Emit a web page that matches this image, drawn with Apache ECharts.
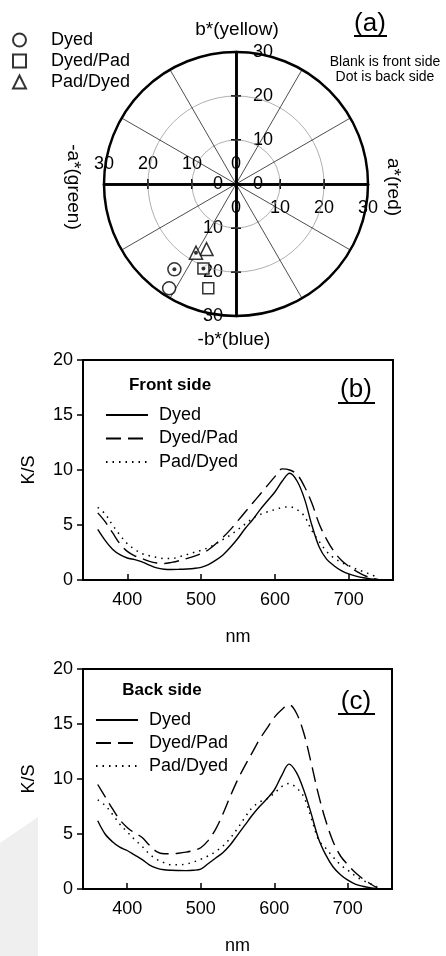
<!DOCTYPE html>
<html><head><meta charset="utf-8">
<script src="https://cdn.jsdelivr.net/npm/echarts@6/dist/echarts.min.js"></script>
<style>html,body{margin:0;padding:0;background:#fff}#c{width:446px;height:956px}</style>
</head><body><div id="c"></div>
<script>
// ---------- Panel (a): CIELAB a*, b* ----------
const dyedFrontAB     = [-15.2, -23.7];
const dyedBackAB      = [-14.0, -19.4];
const dyedPadFrontAB  = [-6.3, -23.7];
const dyedPadBackAB   = [-7.4, -19.2];
const padDyedFrontAB  = [-6.7, -14.8];
const padDyedBackAB   = [-9.1, -15.6];
const polarMax = 30;

// ---------- Panels (b),(c): K/S spectra ----------
const wavelength = [360,370,380,390,400,410,420,430,440,450,460,470,480,490,500,510,520,530,540,550,
                    560,570,580,590,600,610,620,630,640,650,660,670,680,690,700,710,720,730,740];
const frontDyed    = [4.6,3.6,2.8,2.3,2.0,1.85,1.65,1.35,1.1,0.98,0.95,0.97,1.0,1.05,1.15,1.4,1.8,2.3,3.0,3.8,
                      4.7,5.5,6.4,7.2,8.0,9.0,9.7,9.0,7.4,5.0,3.0,1.9,1.3,0.85,0.55,0.35,0.2,0.1,0.03];
const frontDyedPad = [6.1,5.3,4.3,3.3,2.6,2.2,1.95,1.7,1.55,1.5,1.6,1.75,1.95,2.15,2.4,2.75,3.3,3.9,4.6,5.4,
                      6.2,7.0,7.8,8.6,9.4,10.1,10.0,9.6,8.5,7.0,5.1,3.7,2.6,1.8,1.25,0.8,0.45,0.2,0.05];
const frontPadDyed = [6.6,6.0,5.0,4.1,3.3,2.8,2.4,2.2,2.05,1.95,1.95,2.1,2.3,2.5,2.7,2.95,3.3,3.7,4.1,4.6,
                      5.1,5.6,5.95,6.2,6.4,6.6,6.65,6.4,5.8,4.5,3.5,2.6,2.0,1.6,1.3,1.0,0.75,0.5,0.2];
const backDyed     = [6.2,5.0,4.3,3.8,3.5,3.1,2.7,2.2,1.9,1.75,1.7,1.68,1.67,1.7,1.8,2.3,2.8,3.3,4.0,4.9,
                      5.8,6.7,7.5,8.2,9.0,10.3,11.35,10.6,9.0,6.9,4.6,3.1,2.0,1.3,0.8,0.45,0.25,0.12,0.05];
const backDyedPad  = [9.5,8.4,7.3,6.3,5.6,5.1,4.7,4.0,3.4,3.2,3.2,3.25,3.35,3.5,3.75,4.4,5.4,6.8,8.4,9.9,
                      11.2,12.4,13.6,14.6,15.6,16.3,16.75,16.0,14.2,11.5,8.6,6.2,4.3,3.0,2.2,1.5,0.95,0.5,0.1];
const backPadDyed  = [8.1,7.6,6.8,5.9,5.2,4.5,3.9,3.2,2.7,2.4,2.2,2.2,2.27,2.45,2.7,3.0,3.4,3.9,4.6,5.5,
                      6.5,7.4,7.9,8.2,8.7,9.3,9.6,9.2,8.4,6.5,4.5,3.7,2.9,2.2,1.7,1.2,0.8,0.5,0.2];
const nmTicks = [400, 500, 600, 700];
const ksRange = [0, 20];
const nmRange = [340, 760];

const seriesNames = ['Dyed', 'Dyed/Pad', 'Pad/Dyed'];

const FONT = '"Liberation Sans", Arial, Helvetica, sans-serif';
const BLACK = '#000';

const chart = echarts.init(document.getElementById('c'), null, {renderer: 'canvas'});
const pairs = ys => wavelength.map((x, i) => [x, ys[i]]);

// Half-axis of the a*/b* cross; each quadrant grid carries two half-axes meeting at the centre.
function halfAxis(grid, neg, position, showLabels, margin) {
  return {
    gridIndex: grid, type: 'value',
    min: neg ? -polarMax : 0, max: neg ? 0 : polarMax, interval: 10,
    position: position,
    axisLine: {onZero: false, lineStyle: {color: BLACK, width: 2.5}},
    axisTick: {show: true, inside: true, length: 5, lineStyle: {color: BLACK, width: 2}},
    axisLabel: {show: showLabels, inside: true, margin: margin || 12, fontSize: 18, color: BLACK, fontFamily: FONT,
      showMinLabel: true, showMaxLabel: true,
      formatter: v => String(Math.abs(v))},
    splitLine: {show: false}
  };
}
function specX(grid) {
  return {
    gridIndex: grid, type: 'value', min: nmRange[0], max: nmRange[1],
    axisLine: {onZero: false, lineStyle: {color: BLACK, width: 2}},
    axisTick: {show: true, inside: true, length: 6, customValues: nmTicks, lineStyle: {color: BLACK, width: 1.5}},
    axisLabel: {customValues: nmTicks, fontSize: 18, color: BLACK, fontFamily: FONT, margin: 11},
    splitLine: {show: false},
    name: 'nm', nameLocation: 'middle', nameGap: 48,
    nameTextStyle: {fontSize: 18, color: BLACK, fontFamily: FONT}
  };
}
function specY(grid) {
  return {
    gridIndex: grid, type: 'value', min: ksRange[0], max: ksRange[1], interval: 5,
    axisLine: {onZero: false, lineStyle: {color: BLACK, width: 2}},
    axisTick: {show: true, inside: false, length: 6, lineStyle: {color: BLACK, width: 1.5}},
    axisLabel: {fontSize: 18, color: BLACK, fontFamily: FONT, margin: 10},
    splitLine: {show: false},
    name: 'K/S', nameLocation: 'middle', nameGap: 45, nameRotate: 90,
    nameTextStyle: {fontSize: 18, color: BLACK, fontFamily: FONT}
  };
}

const markerStyle = {color: '#fff', borderColor: BLACK, borderWidth: 1.5};
const symbols = ['circle', 'rect', 'triangle'];
const symSizes = [13, 11, 13];
const frontPts = [dyedFrontAB, dyedPadFrontAB, padDyedFrontAB];
const backPts = [dyedBackAB, dyedPadBackAB, padDyedBackAB];

const series = [];
seriesNames.forEach((n, i) => {
  series.push({name: '(a) ' + n, type: 'scatter', xAxisIndex: 2, yAxisIndex: 2,
    symbol: symbols[i], symbolSize: symSizes[i], itemStyle: markerStyle, data: [frontPts[i]], z: 5});
  series.push({name: '(a) back ' + n, type: 'scatter', xAxisIndex: 2, yAxisIndex: 2,
    symbol: symbols[i], symbolSize: symSizes[i], itemStyle: markerStyle, data: [backPts[i]], z: 5});
});
series.push({name: '(a) dots', type: 'scatter', xAxisIndex: 2, yAxisIndex: 2,
  symbol: 'circle', symbolSize: 4, itemStyle: {color: BLACK}, data: backPts, z: 6});

const lineStyles = [
  {color: BLACK, width: 1.4, type: 'solid'},
  {color: BLACK, width: 1.4, type: [15, 7]},
  {color: BLACK, width: 1.5, type: [1.5, 5]}
];
const frontData = [frontDyed, frontDyedPad, frontPadDyed];
const backData = [backDyed, backDyedPad, backPadDyed];
[[4, frontData], [5, backData]].forEach(([g, arr]) => {
  arr.forEach((ys, i) => {
    series.push({name: seriesNames[i], type: 'line', xAxisIndex: g, yAxisIndex: g,
      symbol: 'none', smooth: 0.35, lineStyle: lineStyles[i], itemStyle: {color: BLACK},
      data: pairs(ys)});
  });
});

function label(text, x, y, size, extra, bold) {
  return Object.assign({type: 'text', x: x, y: y, z: 10,
    style: {text: text, fill: BLACK, font: (bold ? 'bold ' : '') + size + 'px ' + FONT, textAlign: 'center', textVerticalAlign: 'middle'}}, extra || {});
}
function underline(x1, x2, y) {
  return {type: 'line', z: 10, shape: {x1: x1, y1: y, x2: x2, y2: y}, style: {stroke: BLACK, lineWidth: 1.8}};
}
const lineLegend = (left, top, gap) => ({
  data: seriesNames, orient: 'vertical', left: left, top: top, padding: 0,
  itemWidth: 42, itemHeight: 12, itemGap: gap, selectedMode: false,
  itemStyle: {opacity: 0, borderWidth: 0},
  textStyle: {fontSize: 18, lineHeight: 18, color: BLACK, fontFamily: FONT, padding: [0, 0, 0, 6]}
});

const option = {
  animation: false,
  backgroundColor: '#fff',
  polar: {center: [236, 184], radius: 132},
  angleAxis: {type: 'value', min: 0, max: 360, interval: 30, startAngle: 90, z: 3,
    axisLine: {show: true, lineStyle: {color: BLACK, width: 2.5}},
    axisTick: {show: false}, axisLabel: {show: false},
    splitLine: {show: true, lineStyle: {color: BLACK, width: 0.7}}},
  radiusAxis: {type: 'value', min: 0, max: polarMax, interval: 10, z: 1,
    axisLine: {show: false}, axisTick: {show: false}, axisLabel: {show: false},
    splitLine: {show: true, lineStyle: {color: '#9a9a9a', width: 0.8}}},
  grid: [
    {left: 104, top: 52, width: 132, height: 132, show: false},   // upper-left
    {left: 236, top: 52, width: 132, height: 132, show: false},   // upper-right
    {left: 104, top: 184, width: 132, height: 132, show: false},  // lower-left
    {left: 236, top: 184, width: 132, height: 132, show: false},  // lower-right
    {left: 83, top: 360, width: 310, height: 220, show: true, borderColor: BLACK, borderWidth: 2},
    {left: 83, top: 669, width: 309, height: 220, show: true, borderColor: BLACK, borderWidth: 2}
  ],
  xAxis: [
    halfAxis(0, true, 'bottom', true, 11),
    halfAxis(1, false, 'bottom', false),
    halfAxis(2, true, 'top', false),
    halfAxis(3, false, 'top', true, 15),
    specX(4), specX(5)
  ],
  yAxis: [
    halfAxis(0, false, 'right', false),
    halfAxis(1, false, 'left', true, 17),
    halfAxis(2, true, 'right', true, 13),
    halfAxis(3, true, 'left', false),
    specY(4), specY(5)
  ],
  legend: [
    {data: seriesNames.map(n => '(a) ' + n), orient: 'vertical', left: 12, top: 31, padding: 0,
      itemWidth: 13, itemHeight: 13, itemGap: 3, selectedMode: false,
      formatter: n => n.replace('(a) ', ''),
      textStyle: {fontSize: 18, lineHeight: 18, color: BLACK, fontFamily: FONT, padding: [0, 0, 0, 20]}},
    lineLegend(105, 406, 5.5),
    lineLegend(95, 711, 5)
  ],
  graphic: [
    {type: 'polygon', z: -10, shape: {points: [[0, 843], [38, 817], [38, 956], [0, 956]]}, style: {fill: '#efefef'}},
    label('b*(yellow)', 237, 30, 19),
    label('-b*(blue)', 234, 340, 19),
    label('-a*(green)', 73, 187, 19, {rotation: -Math.PI / 2}),
    label('a*(red)', 393, 187, 19, {rotation: -Math.PI / 2}),
    label('(a)', 370, 24, 26),
    underline(354, 387, 36),
    label('Blank is front side', 385, 62, 14),
    label('Dot is back side', 385, 77, 14),
    label('Front side', 170, 385, 17, null, true),
    label('(b)', 356, 390, 26),
    underline(338, 375, 403),
    label('Back side', 162, 690, 17, null, true),
    label('(c)', 356, 702, 26),
    underline(338, 375, 714)
  ],
  series: series
};
chart.setOption(option);
</script>
</body></html>
